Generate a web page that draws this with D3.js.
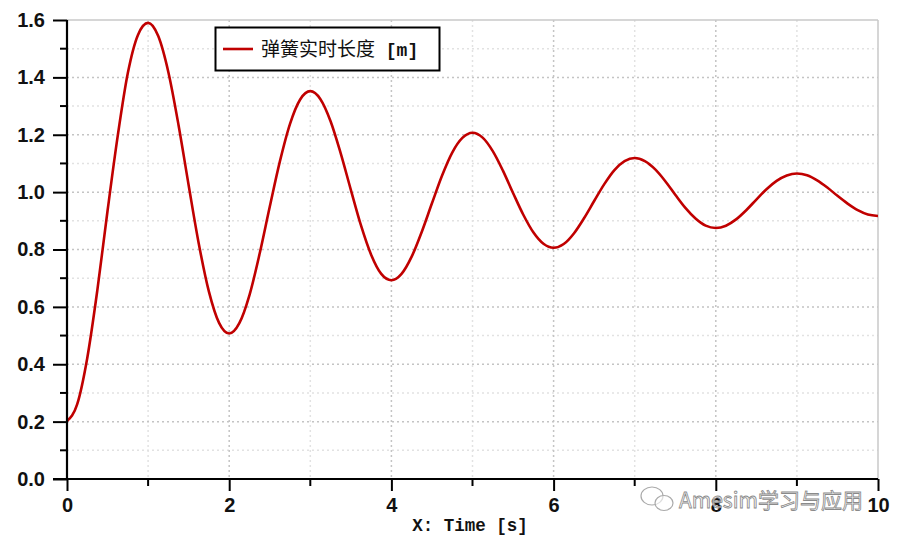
<!DOCTYPE html>
<html><head><meta charset="utf-8">
<script src="https://cdn.jsdelivr.net/npm/d3@7"></script>
<style>body{margin:0;background:#fff}svg{display:block}</style>
</head><body>
<svg id="c" width="900" height="541"></svg>
<script>
const times = [0,0.125,0.25,0.375,0.5,0.625,0.75,0.875,
1,1.125,1.25,1.375,1.5,1.625,1.75,1.875,
2,2.125,2.25,2.375,2.5,2.625,2.75,2.875,
3,3.125,3.25,3.375,3.5,3.625,3.75,3.875,
4,4.125,4.25,4.375,4.5,4.625,4.75,4.875,
5,5.125,5.25,5.375,5.5,5.625,5.75,5.875,
6,6.125,6.25,6.375,6.5,6.625,6.75,6.875,
7,7.125,7.25,7.375,7.5,7.625,7.75,7.875,
8,8.125,8.25,8.375,8.5,8.625,8.75,8.875,
9,9.125,9.25,9.375,9.5,9.625,9.75,9.875,
10];
const lengths = [0.202,0.260,0.422,0.660,0.935,1.195,1.415,1.548,
1.590,1.544,1.418,1.234,1.024,0.820,0.653,0.544,
0.507,0.543,0.641,0.785,0.949,1.107,1.238,1.323,
1.352,1.324,1.247,1.135,1.008,0.884,0.782,0.715,
0.693,0.715,0.775,0.862,0.961,1.058,1.138,1.189,
1.207,1.190,1.143,1.075,0.997,0.922,0.860,0.820,
0.806,0.819,0.856,0.909,0.969,1.028,1.077,1.108,
1.119,1.108,1.080,1.039,0.991,0.945,0.908,0.883,
0.875,0.883,0.905,0.937,0.974,1.010,1.039,1.058,
1.065,1.059,1.041,1.016,0.987,0.960,0.937,0.922,
0.917];
const xMajorTicks = [0,2,4,6,8,10];
const xMinorTicks = [1,3,5,7,9];
const yMajorTicks = [0,0.2,0.4,0.6,0.8,1.0,1.2,1.4,1.6];
const yMinorTicks = [0.1,0.3,0.5,0.7,0.9,1.1,1.3,1.5];
const seriesName = "弹簧实时长度";
const seriesUnit = " [m]";
const xTitle = "X: Time [s]";
const watermark = "Amesim学习与应用";

const svg = d3.select("#c");
const L = 67, R = 878, T = 20, B = 479;
const x = d3.scaleLinear().domain([0,10]).range([L,R]);
const y = d3.scaleLinear().domain([0,1.6]).range([B,T]);

// grid
const g = svg.append("g");
g.selectAll(".ymin").data(yMinorTicks).join("line")
 .attr("x1",L).attr("x2",R).attr("y1",d=>y(d)).attr("y2",d=>y(d))
 .attr("stroke","#e2e2e2").attr("stroke-width",1.5).attr("stroke-dasharray","2,3");
g.selectAll(".xmin").data(xMinorTicks).join("line")
 .attr("y1",T).attr("y2",B).attr("x1",d=>x(d)).attr("x2",d=>x(d))
 .attr("stroke","#e2e2e2").attr("stroke-width",1.5).attr("stroke-dasharray","2,3");
g.selectAll(".ymaj").data(yMajorTicks.filter(d=>d>0 && d<1.6)).join("line")
 .attr("x1",L).attr("x2",R).attr("y1",d=>y(d)).attr("y2",d=>y(d))
 .attr("stroke","#c4c4c4").attr("stroke-width",1.5).attr("stroke-dasharray","2,3");
g.selectAll(".xmaj").data(xMajorTicks.filter(d=>d>0 && d<10)).join("line")
 .attr("y1",T).attr("y2",B).attr("x1",d=>x(d)).attr("x2",d=>x(d))
 .attr("stroke","#c4c4c4").attr("stroke-width",1.5).attr("stroke-dasharray","2,3");
g.append("line").attr("x1",L).attr("x2",R).attr("y1",y(1.6)).attr("y2",y(1.6)).attr("stroke","#c8c8c8").attr("stroke-width",1.5);
g.append("line").attr("x1",x(10)).attr("x2",x(10)).attr("y1",T).attr("y2",B).attr("stroke","#c8c8c8").attr("stroke-width",1.5);

// curve
const line = d3.line().x((d,i)=>x(times[i])).y(d=>y(d)).curve(d3.curveMonotoneX);
svg.append("path").datum(lengths).attr("d",line).attr("fill","none")
 .attr("stroke","#c00000").attr("stroke-width",2.6).attr("stroke-linejoin","round");

// axes
const tickFont = "'Liberation Sans',Arial,sans-serif";
const yAxis = d3.axisLeft(y).tickValues(yMajorTicks).tickSize(14).tickPadding(8).tickFormat(d3.format(".1f"));
const yg = svg.append("g").attr("transform",`translate(${L},0)`).call(yAxis);
yg.select(".domain").attr("stroke","#000").attr("stroke-width",2.2).attr("d",`M0,${T}V${B}`);
yg.selectAll(".tick line").attr("stroke","#000").attr("stroke-width",2);
yg.selectAll(".tick text").attr("font-family",tickFont).attr("font-weight","bold").attr("font-size","20px").attr("fill","#111");
svg.append("g").selectAll("line").data(yMinorTicks).join("line")
 .attr("x1",L-7).attr("x2",L).attr("y1",d=>y(d)).attr("y2",d=>y(d)).attr("stroke","#000").attr("stroke-width",2);

const xAxis = d3.axisBottom(x).tickValues(xMajorTicks).tickSize(12).tickPadding(7).tickFormat(d3.format("d"));
const xg = svg.append("g").attr("transform",`translate(0,${B})`).call(xAxis);
xg.select(".domain").attr("stroke","#000").attr("stroke-width",2.2).attr("d",`M${L-14},0H${R}`);
xg.selectAll(".tick line").attr("stroke","#000").attr("stroke-width",2);
xg.selectAll(".tick text").attr("font-family",tickFont).attr("font-weight","bold").attr("font-size","20px").attr("fill","#111");
svg.append("g").selectAll("line").data(xMinorTicks).join("line")
 .attr("y1",B).attr("y2",B+7).attr("x1",d=>x(d)).attr("x2",d=>x(d)).attr("stroke","#000").attr("stroke-width",2);

// x title
svg.append("text").attr("x",470).attr("y",531).attr("text-anchor","middle")
 .attr("font-family","'Liberation Mono','DejaVu Sans Mono',monospace").attr("font-weight","bold")
 .attr("font-size","17.5px").attr("fill","#111").text(xTitle);

// legend
const lg = svg.append("g");
lg.append("rect").attr("x",215.5).attr("y",27.5).attr("width",224).attr("height",43)
 .attr("fill","#fff").attr("stroke","#000").attr("stroke-width",2);
lg.append("line").attr("x1",223).attr("x2",253).attr("y1",49).attr("y2",49).attr("stroke","#c00000").attr("stroke-width",2.6);
const lt = lg.append("text").attr("x",261).attr("y",56).attr("font-size","19px").attr("fill","#111")
 .attr("font-family","'Noto Sans CJK SC',sans-serif");
lt.append("tspan").text(seriesName);
lt.append("tspan").attr("font-family","'Liberation Mono',monospace").attr("font-weight","bold").attr("font-size","18px").text(seriesUnit);

// watermark
const wm = svg.append("g");
wm.append("ellipse").attr("cx",652).attr("cy",496).attr("rx",11).attr("ry",9).attr("fill","#fff").attr("fill-opacity",0.6).attr("stroke","#aaa").attr("stroke-width",1.2);
wm.append("ellipse").attr("cx",664).attr("cy",503).attr("rx",9).attr("ry",7.5).attr("fill","#fff").attr("fill-opacity",0.6).attr("stroke","#aaa").attr("stroke-width",1.2);
wm.append("text").attr("x",679).attr("y",508).attr("font-size","21px")
 .attr("font-family","'Noto Sans CJK SC','Noto Sans',sans-serif")
 .attr("fill","#f4f4f4").attr("fill-opacity",0.7).attr("stroke","#8a8a8a").attr("stroke-width",0.8).text(watermark);
</script>
</body></html>
